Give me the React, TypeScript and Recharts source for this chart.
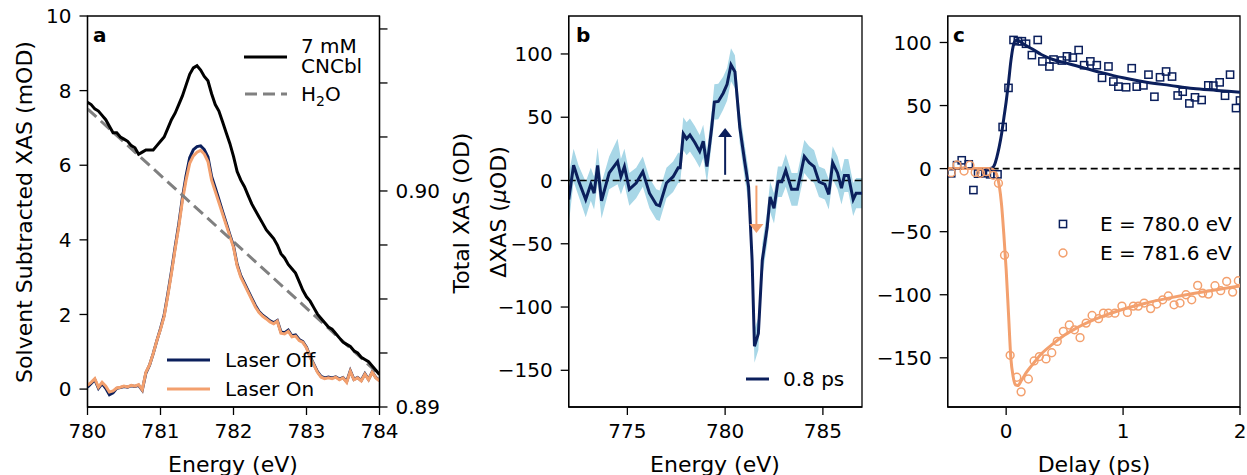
import React from "react";
import {
  ComposedChart,
  Line,
  Area,
  Scatter,
  XAxis,
  YAxis,
  ReferenceLine,
  ReferenceArea,
  ReferenceDot,
} from "recharts";

const FONT = "DejaVu Sans, sans-serif";
const NAVY = "#0b1f5c";
const ORANGE = "#f3a06e";
const BAND = "#a8d7e7";

// ---- panel a: static XAS ----
const energyA = Array.from({ length: 81 }, (_, i) => Math.round((780 + i * 0.05) * 100) / 100);
const laserOff = [
  0.05, 0.15, 0.25, 0.02, 0.15, 0.02, -0.15, -0.1, 0.02, 0.04, 0.07, 0.05, 0.09, 0.07, 0.1, -0.03,
  0.43, 0.64, 0.95, 1.3, 1.62, 1.98, 2.55, 3.15, 3.8, 4.42, 5.12, 5.72, 6.2, 6.42, 6.5, 6.52, 6.42,
  6.22, 5.7, 5.4, 5.08, 4.76, 4.45, 4.14, 3.84, 3.34, 3.04, 2.84, 2.64, 2.44, 2.24, 2.08, 1.98, 1.91,
  1.83, 1.78, 1.84, 1.53, 1.51, 1.58, 1.43, 1.45, 1.33, 1.27, 1.12, 0.87, 0.67, 0.47, 0.34, 0.3, 0.32,
  0.3, 0.33, 0.27, 0.31, 0.2, 0.49, 0.26, 0.31, 0.23, 0.41, 0.26, 0.46, 0.31, 0.23,
];
const laserOn = [
  0.1, 0.18, 0.28, 0.05, 0.18, 0.08, -0.08, -0.05, 0.03, 0.05, 0.08, 0.06, 0.1, 0.08, 0.12, -0.02,
  0.45, 0.65, 0.95, 1.3, 1.6, 1.95, 2.5, 3.1, 3.75, 4.35, 5.05, 5.6, 6.05, 6.25, 6.35, 6.4, 6.3, 6.1,
  5.6, 5.3, 5.0, 4.7, 4.4, 4.1, 3.8, 3.3, 3.0, 2.8, 2.6, 2.4, 2.2, 2.05, 1.95, 1.88, 1.8, 1.75, 1.82,
  1.5, 1.48, 1.55, 1.4, 1.42, 1.3, 1.25, 1.1, 0.85, 0.65, 0.45, 0.32, 0.28, 0.3, 0.28, 0.32, 0.25, 0.3,
  0.18, 0.48, 0.25, 0.3, 0.22, 0.4, 0.25, 0.45, 0.3, 0.22,
];
const totalCNCbl = [
  0.9041, 0.904, 0.9038, 0.9037, 0.9035, 0.9033, 0.903, 0.9027, 0.9027, 0.9025, 0.9024, 0.9023,
  0.9021, 0.902, 0.9017, 0.9018, 0.9019, 0.9019, 0.9019, 0.9021, 0.9023, 0.9025, 0.9029, 0.9033,
  0.9036, 0.904, 0.9044, 0.9049, 0.9054, 0.9057, 0.9058, 0.9056, 0.9053, 0.9051, 0.9045, 0.904,
  0.9037, 0.9032, 0.9027, 0.9022, 0.9016, 0.9009, 0.9005, 0.9002, 0.8998, 0.8994, 0.8991, 0.8988,
  0.8985, 0.8982, 0.898, 0.8978, 0.8975, 0.8971, 0.8969, 0.8966, 0.8964, 0.8962, 0.8958, 0.8954,
  0.8951, 0.8949, 0.8946, 0.8943, 0.8941, 0.8939, 0.8937, 0.8936, 0.8934, 0.8932, 0.893, 0.8929,
  0.8928, 0.8926, 0.8925, 0.8923, 0.8922, 0.8921, 0.8919, 0.8917, 0.8915,
];
const waterEnergy = [780, 784];
const waterTotal = [0.9038, 0.8915];
const ticksAX = [780, 781, 782, 783, 784];
const ticksALeft = [0, 2, 4, 6, 8, 10];
const ticksARight = [0.89, 0.8925, 0.895, 0.8975, 0.9, 0.9025, 0.905, 0.9075];

// ---- panel b: transient difference at 0.8 ps ----
const energyB = [
  772.0, 772.25, 772.5, 772.87, 773.13, 773.3, 773.48, 773.68, 774.07, 774.5, 774.67, 774.85, 775.1,
  775.45, 775.79, 776.13, 776.48, 776.65, 777.0, 777.34, 777.6, 777.7, 777.86, 778.03, 778.2, 778.45,
  778.7, 778.88, 779.07, 779.3, 779.45, 779.65, 779.9, 780.1, 780.3, 780.5, 780.75, 781.0, 781.2,
  781.38, 781.5, 781.7, 781.9, 782.15, 782.3, 782.5, 782.7, 782.9, 783.1, 783.4, 783.7, 784.05, 784.3,
  784.55, 784.8, 785.1, 785.3, 785.5, 785.75, 785.95, 786.1, 786.3, 786.55, 786.7, 787.0,
];
const deltaXAS = [
  -15, 12, 0, -15, -3, -10, 12, -16, 6, 15, 3, 11, -7, -2, 7, -10, -19, -20, -2, 3, 10, 10, 37, 33,
  36, 30, 23, 31, 11, 40, 62, 62.5, 69, 76, 91.5, 86, 42, 15, -5, -63, -131, -121, -63, -37, -13, -22,
  -1, -1, 8, -7, -7, 19, 14, 11, -1, -3, -11, 14, 6, -6, 4, 4, -15, -10, -10,
];
const deltaErr = [
  20, 13, 12, 14, 13, 13, 14, 14, 13, 18, 14, 14, 13, 12, 12, 12, 12, 12, 12, 12, 12, 12, 13, 13, 13,
  13, 13, 13, 13, 13, 14, 14, 13, 13, 13, 13, 13, 13, 13, 13, 13, 13, 13, 13, 12, 12, 12, 12, 13, 13,
  13, 13, 13, 13, 12, 12, 12, 13, 13, 13, 13, 13, 13, 12, 12,
];
const ticksBX = [775, 780, 785];
const ticksBY = [-150, -100, -50, 0, 50, 100];

// ---- panel c: kinetics ----
const t780 = [
  -0.47, -0.42, -0.38, -0.32, -0.28, -0.24, -0.21, -0.165, -0.137, -0.074, -0.03, 0.02, 0.063, 0.1,
  0.134, 0.17, 0.22, 0.27, 0.31, 0.37, 0.405, 0.476, 0.52, 0.57, 0.62, 0.667, 0.72, 0.775, 0.82, 0.875,
  0.917, 0.96, 1.026, 1.074, 1.117, 1.174, 1.217, 1.268, 1.316, 1.368, 1.419, 1.467, 1.51, 1.567, 1.615,
  1.672, 1.729, 1.772, 1.826, 1.872, 1.915, 1.966, 2.0,
];
const v780 = [
  -3.7, 2.7, 6.6, 3.4, -17, -4, -3.7, -3.2, -4.5, -4.5, 33, 64, 102, 101, 101, 99, 90, 102, 85, 81,
  86.5, 85.7, 89, 88, 94, 82, 85, 82, 72, 81, 69, 65, 64.5, 79.6, 65, 66, 74.5, 57, 72.4, 77, 73, 58,
  61, 51.7, 56.5, 54.4, 66, 65.8, 68.4, 57.8, 74.5, 48, 54,
];
const t782 = [
  -0.47, -0.42, -0.36, -0.31, -0.265, -0.22, -0.17, -0.11, -0.066, -0.014, 0.034, 0.091, 0.128, 0.19,
  0.239, 0.284, 0.341, 0.39, 0.437, 0.489, 0.54, 0.584, 0.632, 0.684, 0.735, 0.79, 0.832, 0.875, 0.93,
  0.99, 1.037, 1.088, 1.13, 1.18, 1.236, 1.288, 1.339, 1.387, 1.436, 1.487, 1.538, 1.587, 1.638, 1.68,
  1.73, 1.786, 1.835, 1.886, 1.937, 1.986,
];
const v782 = [
  -3.2, 2.9, -1.9, 2.7, -3, -3.7, -2.4, -5.3, -11.6, -68.7, -148, -165.4, -177, -166.8, -152.5, -149,
  -150.9, -146, -137, -129, -124, -127.8, -134, -122.5, -116.4, -119, -114.6, -114.6, -114.6, -109,
  -114, -109, -109, -106.6, -111, -107.4, -104, -101, -108, -106.6, -100, -104, -92.6, -98.7, -99.5,
  -92.8, -96.8, -89.4, -97.9, -88.9,
];
const tFit = [
  -0.5, -0.15, -0.12, -0.1, -0.08, -0.06, -0.04, -0.02, 0, 0.02, 0.04, 0.06, 0.08, 0.1, 0.13, 0.17,
  0.22, 0.3, 0.4, 0.5, 0.6, 0.8, 1.0, 1.2, 1.4, 1.6, 1.8, 2.0,
];
const fit780 = [
  0, 0, 0.5, 3, 9, 17, 27, 40, 53, 68, 85, 97, 101.5, 101.5, 100, 97.5, 95, 90.5, 86.5, 84, 81.5, 76.5,
  72, 68.5, 66, 63.5, 62, 60.5,
];
const fit782 = [
  0, 0, -0.5, -2, -5, -13, -28, -52, -80, -115, -150, -165, -171.5, -172, -168, -162, -156, -147, -139,
  -132, -126.5, -118, -111.5, -106.5, -102.5, -99, -96, -93,
];
const ticksCX = [0, 1, 2];
const ticksCY = [-150, -100, -50, 0, 50, 100];

const tick = { fontSize: 20, fill: "#000", fontFamily: FONT };
const axisLine = { stroke: "#000", strokeWidth: 1.3 };
const minus = (v: number) => String(v).replace("-", "\u2212");

function PanelA() {
  const rows = energyA.map((e, i) => ({ e, off: laserOff[i], on: laserOn[i], total: totalCNCbl[i] }));
  const water = waterEnergy.map((e, i) => ({ e, total: waterTotal[i] }));
  return (
    <ComposedChart
      width={440}
      height={475}
      data={rows}
      margin={{ top: 16, right: 0.5, bottom: 18, left: 27.5 }}
    >
      <XAxis
        dataKey="e"
        type="number"
        domain={[780, 784]}
        ticks={ticksAX}
        allowDataOverflow
        height={50}
        tick={tick}
        tickSize={8}
        tickMargin={9}
        axisLine={axisLine}
        tickLine={axisLine}
      />
      <YAxis
        yAxisId="left"
        domain={[-0.48, 10]}
        ticks={ticksALeft}
        allowDataOverflow
        width={60}
        tick={tick}
        tickSize={8}
        tickMargin={8}
        axisLine={axisLine}
        tickLine={axisLine}
      />
      <YAxis
        yAxisId="right"
        orientation="right"
        domain={[0.89, 0.9081]}
        ticks={ticksARight}
        allowDataOverflow
        width={60}
        tick={tick}
        tickSize={8}
        tickMargin={8}
        tickFormatter={(v: number) =>
          Math.abs(v - 0.89) < 1e-6 ? "0.89" : Math.abs(v - 0.9) < 1e-6 ? "0.90" : ""
        }
        axisLine={axisLine}
        tickLine={axisLine}
      />
      <ReferenceArea
        yAxisId="left"
        x1={780}
        x2={784}
        y1={-0.48}
        y2={10}
        fill="none"
        stroke="#000"
        strokeWidth={1.3}
      />
      <Line yAxisId="left" dataKey="off" stroke={NAVY} strokeWidth={3} dot={false} isAnimationActive={false} />
      <Line yAxisId="left" dataKey="on" stroke={ORANGE} strokeWidth={3} dot={false} isAnimationActive={false} />
      <Line
        yAxisId="right"
        data={water}
        dataKey="total"
        stroke="#808080"
        strokeWidth={3}
        strokeDasharray="12 6"
        dot={false}
        isAnimationActive={false}
      />
      <Line yAxisId="right" dataKey="total" stroke="#000" strokeWidth={3} dot={false} isAnimationActive={false} />
    </ComposedChart>
  );
}

const upHead = (color: string) => (p: any) => (
  <polygon points={`${p.cx},${p.cy} ${p.cx - 7},${p.cy + 9} ${p.cx + 7},${p.cy + 9}`} fill={color} />
);
const downHead = (color: string) => (p: any) => (
  <polygon points={`${p.cx},${p.cy} ${p.cx - 7},${p.cy - 9} ${p.cx + 7},${p.cy - 9}`} fill={color} />
);

function PanelB() {
  const rows = energyB.map((e, i) => ({
    e,
    v: deltaXAS[i],
    band: [deltaXAS[i] - deltaErr[i], deltaXAS[i] + deltaErr[i]],
  }));
  return (
    <ComposedChart
      width={440}
      height={475}
      data={rows}
      margin={{ top: 16, right: 18, bottom: 18, left: 58.7 }}
    >
      <XAxis
        dataKey="e"
        type="number"
        domain={[772, 787]}
        ticks={ticksBX}
        allowDataOverflow
        height={50}
        tick={tick}
        tickSize={8}
        tickMargin={9}
        axisLine={axisLine}
        tickLine={axisLine}
      />
      <YAxis
        domain={[-179, 130]}
        ticks={ticksBY}
        allowDataOverflow
        width={70}
        tick={tick}
        tickSize={8}
        tickMargin={8}
        tickFormatter={minus}
        axisLine={axisLine}
        tickLine={axisLine}
      />
      <Area dataKey="band" type="linear" stroke="none" fill={BAND} fillOpacity={1} isAnimationActive={false} />
      <ReferenceLine y={0} stroke="#000" strokeWidth={1.6} strokeDasharray="7 4" />
      <Line dataKey="v" stroke={NAVY} strokeWidth={3} dot={false} isAnimationActive={false} />
      <ReferenceLine segment={[{ x: 780, y: 4.5 }, { x: 780, y: 35 }]} stroke={NAVY} strokeWidth={2} />
      <ReferenceDot x={780} y={41.5} r={1} shape={upHead(NAVY)} />
      <ReferenceLine segment={[{ x: 781.6, y: -4 }, { x: 781.6, y: -35 }]} stroke={ORANGE} strokeWidth={2} />
      <ReferenceDot x={781.6} y={-41.5} r={1} shape={downHead(ORANGE)} />
      <ReferenceArea x1={772} x2={787} y1={-179} y2={130} fill="none" stroke="#000" strokeWidth={1.3} />
    </ComposedChart>
  );
}

const squareMark = (p: any) => (
  <rect x={p.cx - 3.6} y={p.cy - 3.6} width={7.2} height={7.2} fill="none" stroke={NAVY} strokeWidth={1.5} />
);
const circleMark = (p: any) => (
  <circle cx={p.cx} cy={p.cy} r={3.9} fill="none" stroke={ORANGE} strokeWidth={1.5} />
);

function PanelC() {
  const pts780 = t780.map((t, i) => ({ t, v: v780[i] }));
  const pts782 = t782.map((t, i) => ({ t, v: v782[i] }));
  const f780 = tFit.map((t, i) => ({ t, v: fit780[i] }));
  const f782 = tFit.map((t, i) => ({ t, v: fit782[i] }));
  return (
    <ComposedChart width={397} height={475} margin={{ top: 16, right: 7, bottom: 18, left: 37.7 }}>
      <XAxis
        dataKey="t"
        type="number"
        domain={[-0.5, 2]}
        ticks={ticksCX}
        allowDataOverflow
        height={50}
        tick={tick}
        tickSize={8}
        tickMargin={9}
        axisLine={axisLine}
        tickLine={axisLine}
      />
      <YAxis
        domain={[-189, 121]}
        ticks={ticksCY}
        allowDataOverflow
        width={60}
        tick={tick}
        tickSize={8}
        tickMargin={8}
        tickFormatter={minus}
        axisLine={axisLine}
        tickLine={axisLine}
      />
      <ReferenceLine y={0} stroke="#000" strokeWidth={1.6} strokeDasharray="7 4" />
      <Scatter data={pts780} dataKey="v" shape={squareMark} isAnimationActive={false} />
      <Scatter data={pts782} dataKey="v" shape={circleMark} isAnimationActive={false} />
      <Line data={f780} dataKey="v" type="monotone" stroke={NAVY} strokeWidth={3} dot={false} isAnimationActive={false} />
      <Line data={f782} dataKey="v" type="monotone" stroke={ORANGE} strokeWidth={3} dot={false} isAnimationActive={false} />
      <ReferenceArea x1={-0.5} x2={2} y1={-189} y2={121} fill="none" stroke="#000" strokeWidth={1.3} />
    </ComposedChart>
  );
}

function Overlay() {
  const t = { fontFamily: FONT, fill: "#000" } as const;
  return (
    <svg width={1247} height={475} style={{ position: "absolute", left: 0, top: 0, pointerEvents: "none" }}>
      {/* axis titles */}
      <text {...t} fontSize={22} textAnchor="middle" dominantBaseline="central" transform="translate(24,212) rotate(-90)">
        Solvent Subtracted XAS (mOD)
      </text>
      <text {...t} fontSize={22} textAnchor="middle" dominantBaseline="central" transform="translate(461,213) rotate(-90)">
        Total XAS (OD)
      </text>
      <text {...t} fontSize={22} textAnchor="middle" dominantBaseline="central" transform="translate(498,212) rotate(-90)">
        ΔXAS (<tspan fontStyle="italic">μ</tspan>OD)
      </text>
      <text {...t} fontSize={22} textAnchor="middle" x={233} y={472}>Energy (eV)</text>
      <text {...t} fontSize={22} textAnchor="middle" x={715} y={472}>Energy (eV)</text>
      <text {...t} fontSize={22} textAnchor="middle" x={1094} y={472}>Delay (ps)</text>
      {/* panel letters */}
      <text {...t} fontSize={20} fontWeight="bold" x={93} y={42}>a</text>
      <text {...t} fontSize={20} fontWeight="bold" x={576} y={42}>b</text>
      <text {...t} fontSize={20} fontWeight="bold" x={953} y={42}>c</text>
      {/* legend a (top) */}
      <line x1={244} x2={287} y1={57} y2={57} stroke="#000" strokeWidth={3} />
      <text {...t} fontSize={20} x={301} y={53}>7 mM</text>
      <text {...t} fontSize={20} x={301} y={73}>CNCbl</text>
      <line x1={245} x2={287} y1={94} y2={94} stroke="#808080" strokeWidth={3} strokeDasharray="12 6" />
      <text {...t} fontSize={20} x={301} y={101}>
        H<tspan fontSize={14} dy={5}>2</tspan>
        <tspan dy={-5}>O</tspan>
      </text>
      {/* legend a (bottom) */}
      <line x1={167} x2={210} y1={360} y2={360} stroke={NAVY} strokeWidth={3} />
      <text {...t} fontSize={20} x={225} y={367}>Laser Off</text>
      <line x1={167} x2={210} y1={389} y2={389} stroke={ORANGE} strokeWidth={3} />
      <text {...t} fontSize={20} x={225} y={396}>Laser On</text>
      {/* legend b */}
      <line x1={746} x2={769} y1={379} y2={379} stroke={NAVY} strokeWidth={3} />
      <text {...t} fontSize={20} x={783} y={386}>0.8 ps</text>
      {/* legend c */}
      <rect x={1059.4} y={220.4} width={7.2} height={7.2} fill="none" stroke={NAVY} strokeWidth={1.5} />
      <text {...t} fontSize={20} x={1100} y={231}>E = 780.0 eV</text>
      <circle cx={1063} cy={253} r={3.9} fill="none" stroke={ORANGE} strokeWidth={1.5} />
      <text {...t} fontSize={20} x={1100} y={260}>E = 781.6 eV</text>
    </svg>
  );
}

export default function App() {
  return (
    <div
      style={{
        position: "absolute",
        left: 0,
        top: 0,
        width: 1247,
        height: 475,
        background: "#fff",
        overflow: "hidden",
        fontFamily: FONT,
      }}
    >
      <div style={{ position: "absolute", left: 0, top: 0 }}>
        <PanelA />
      </div>
      <div style={{ position: "absolute", left: 440, top: 0 }}>
        <PanelB />
      </div>
      <div style={{ position: "absolute", left: 850, top: 0 }}>
        <PanelC />
      </div>
      <Overlay />
    </div>
  );
}
